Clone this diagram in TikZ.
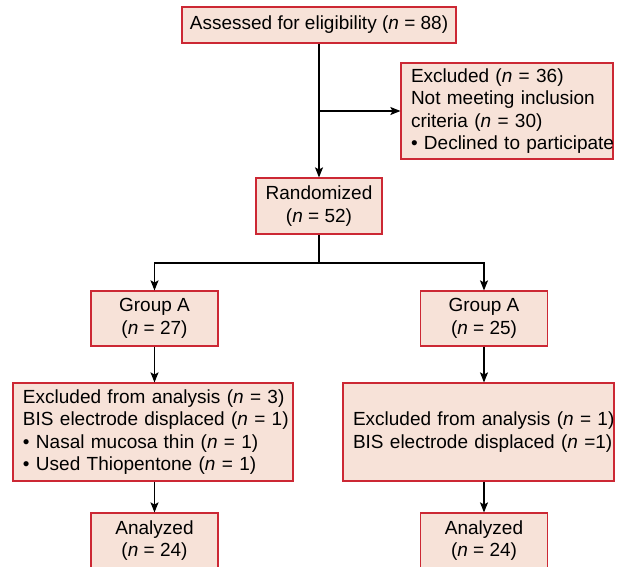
\documentclass[tikz,border=0pt]{standalone}
\usepackage{fontspec}
\setmainfont{Liberation Sans}
\usetikzlibrary{arrows.meta}
\definecolor{boxfill}{RGB}{247,226,216}
\definecolor{boxdraw}{RGB}{204,40,52}
\newcommand{\nn}{\textit{n}}
\newcommand{\myline}[1]{\mbox{#1}}
\begin{document}
\begin{tikzpicture}[x=1pt,y=-1pt,
  box/.style={draw=boxdraw,fill=boxfill,line width=1.2pt,rectangle,inner sep=0pt,
    font=\fontsize{19}{22.5}\selectfont,align=center},
  lbox/.style={box,align=left,inner xsep=10pt},
  conn/.style={line width=1.1pt,black},
  arr/.style={conn,-{Stealth[length=10pt,width=8pt,inset=2pt]}}]
\useasboundingbox (0,0) rectangle (618,566);
\node[box,minimum width=274pt,minimum height=36pt] (assess) at (319,25) {Assessed for eligibility (\nn{} = 88)};
\node[lbox,minimum width=212pt,minimum height=96pt,text width=192pt] (excl) at (507,111)
  {\myline{Excluded (\nn{} = 36)}\\\myline{Not meeting inclusion}\\\myline{criteria (\nn{} = 30)}\\\myline{\textbullet{} Declined to participate}};
\node[box,minimum width=126pt,minimum height=56pt] (rand) at (319,206) {Randomized\\(\nn{} = 52)};
\node[box,minimum width=127pt,minimum height=55pt] (ga) at (154.5,318.5) {Group A\\(\nn{} = 27)};
\node[box,minimum width=127pt,minimum height=55pt] (gb) at (484,318.5) {Group A\\(\nn{} = 25)};
\node[lbox,minimum width=280pt,minimum height=98pt,text width=260pt] (exa) at (153,432)
  {\myline{Excluded from analysis (\nn{} = 3)}\\\myline{BIS electrode displaced (\nn{} = 1)}\\\myline{\textbullet{} Nasal mucosa thin (\nn{} = 1)}\\\myline{\textbullet{} Used Thiopentone (\nn{} = 1)}};
\node[lbox,minimum width=271pt,minimum height=98pt,text width=251pt] (exb) at (478.5,432)
  {\myline{Excluded from analysis (\nn{} = 1)}\\\myline{BIS electrode displaced (\nn{} =1)}};
\node[box,minimum width=127pt,minimum height=55pt] (ana) at (154.5,540.5) {Analyzed\\(\nn{} = 24)};
\node[box,minimum width=127pt,minimum height=55pt] (anb) at (484,540.5) {Analyzed\\(\nn{} = 24)};
\coordinate (br) at (319,111);
\coordinate (sp) at (319,263);
\draw[arr] (assess.south) -- (rand.north);
\draw[arr] (br) -- (excl.west);
\draw[conn] (rand.south) -- (sp);
\draw[arr] (sp) -| (ga.north);
\draw[arr] (sp) -| (gb.north);
\draw[arr] (ga.south) -- (ga.south |- exa.north);
\draw[arr] (gb.south) -- (gb.south |- exb.north);
\draw[arr] (ga.south |- exa.south) -- (ana.north);
\draw[arr] (gb.south |- exb.south) -- (anb.north);
\end{tikzpicture}
\end{document}
